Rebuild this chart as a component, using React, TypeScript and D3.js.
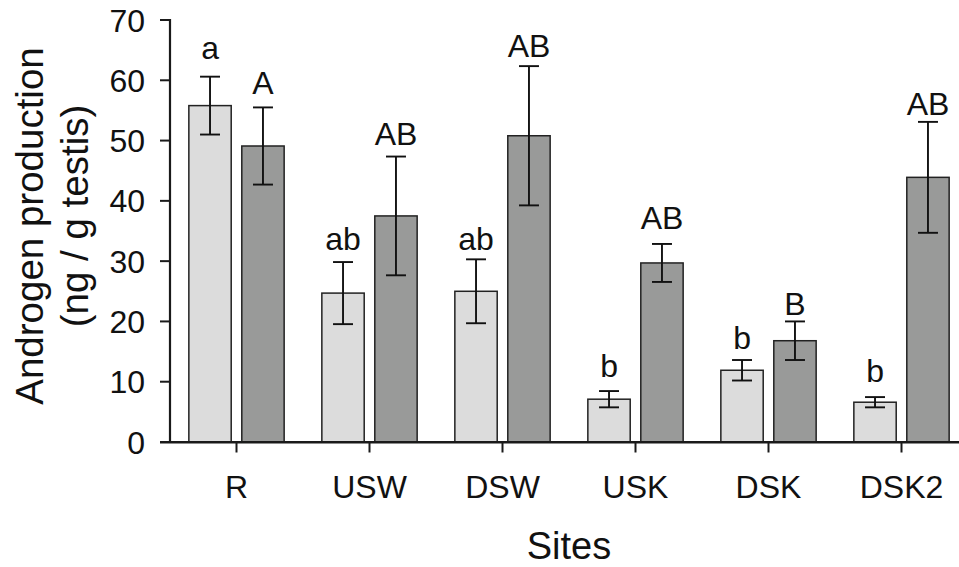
import React from "react";
import * as d3 from "d3";

const sites = ["R", "USW", "DSW", "USK", "DSK", "DSK2"];
const groups = ["light", "dark"];
const lightMean = [55.8, 24.7, 25.0, 7.1, 11.9, 6.6];
const lightSem = [4.8, 5.15, 5.3, 1.35, 1.7, 0.85];
const darkMean = [49.1, 37.5, 50.8, 29.7, 16.8, 43.9];
const darkSem = [6.4, 9.85, 11.55, 3.15, 3.2, 9.2];
const lightLetters = ["a", "ab", "ab", "b", "b", "b"];
const darkLetters = ["A", "AB", "AB", "AB", "B", "AB"];
const lightLetterY = [63.5, 31.8, 31.8, 10.8, 15.5, 10.0];
const darkLetterY = [57.7, 49.3, 63.9, 35.4, 21.1, 54.2];
const yTicks = [0, 10, 20, 30, 40, 50, 60, 70];

const W = 959;
const H = 567;
const FONT = "'Liberation Sans', Arial, Helvetica, sans-serif";

export default function App() {
  const y = d3.scaleLinear().domain([0, 70]).range([442, 20]);
  const pi = 1 - 95.3 / 133;
  const x = d3
    .scaleBand<string>()
    .domain(sites)
    .range([170, 968])
    .paddingInner(pi)
    .paddingOuter(pi / 2);
  const xi = d3
    .scaleBand<string>()
    .domain(groups)
    .range([0, x.bandwidth()])
    .paddingInner(0.2);

  const series = [
    { key: "light", mean: lightMean, sem: lightSem, letters: lightLetters, ly: lightLetterY, fill: "#dcdcdc" },
    { key: "dark", mean: darkMean, sem: darkSem, letters: darkLetters, ly: darkLetterY, fill: "#999a99" },
  ];

  return (
    <svg
      width={W}
      height={H}
      style={{ position: "fixed", left: 0, top: 0, background: "#fff" }}
      fontFamily={FONT}
    >
      <rect x={0} y={0} width={W} height={H} fill="#fff" />
      {series.map((s) =>
        sites.map((site, i) => {
          const bx = (x(site) as number) + (xi(s.key) as number);
          const bw = xi.bandwidth();
          const cx = bx + bw / 2;
          const top = y(s.mean[i]);
          const hi = y(s.mean[i] + s.sem[i]);
          const lo = y(s.mean[i] - s.sem[i]);
          const cap = 10;
          return (
            <g key={s.key + site}>
              <rect
                x={bx}
                y={top}
                width={bw}
                height={y(0) - top}
                fill={s.fill}
                stroke="#222"
                strokeWidth={1.5}
              />
              <line x1={cx} x2={cx} y1={hi} y2={lo} stroke="#111" strokeWidth={1.9} />
              <line x1={cx - cap} x2={cx + cap} y1={hi} y2={hi} stroke="#111" strokeWidth={1.9} />
              <line x1={cx - cap} x2={cx + cap} y1={lo} y2={lo} stroke="#111" strokeWidth={1.9} />
              <text x={cx} y={y(s.ly[i])} textAnchor="middle" fontSize={32} fill="#111">
                {s.letters[i]}
              </text>
            </g>
          );
        })
      )}
      {/* y axis */}
      <line x1={170} x2={170} y1={19} y2={443} stroke="#1a1a1a" strokeWidth={2.2} />
      {yTicks.map((t) => (
        <g key={t}>
          <line x1={160} x2={170} y1={y(t)} y2={y(t)} stroke="#1a1a1a" strokeWidth={2} />
          <text x={145} y={y(t) + 11.5} textAnchor="end" fontSize={32} fill="#111">
            {t}
          </text>
        </g>
      ))}
      {/* x axis */}
      <line x1={160} x2={959} y1={442.3} y2={442.3} stroke="#1a1a1a" strokeWidth={2.5} />
      {sites.map((site) => {
        const cx = (x(site) as number) + x.bandwidth() / 2;
        return (
          <g key={site}>
            <line x1={cx} x2={cx} y1={442} y2={452.5} stroke="#1a1a1a" strokeWidth={2} />
            <text x={cx} y={498} textAnchor="middle" fontSize={32} fill="#111">
              {site}
            </text>
          </g>
        );
      })}
      <text x={569} y={559} textAnchor="middle" fontSize={38} fill="#111">
        Sites
      </text>
      <text transform="translate(43,226) rotate(-90)" textAnchor="middle" fontSize={38.5} fill="#111">
        Androgen production
      </text>
      <text transform="translate(88,216) rotate(-90)" textAnchor="middle" fontSize={38.5} fill="#111">
        (ng / g testis)
      </text>
    </svg>
  );
}
